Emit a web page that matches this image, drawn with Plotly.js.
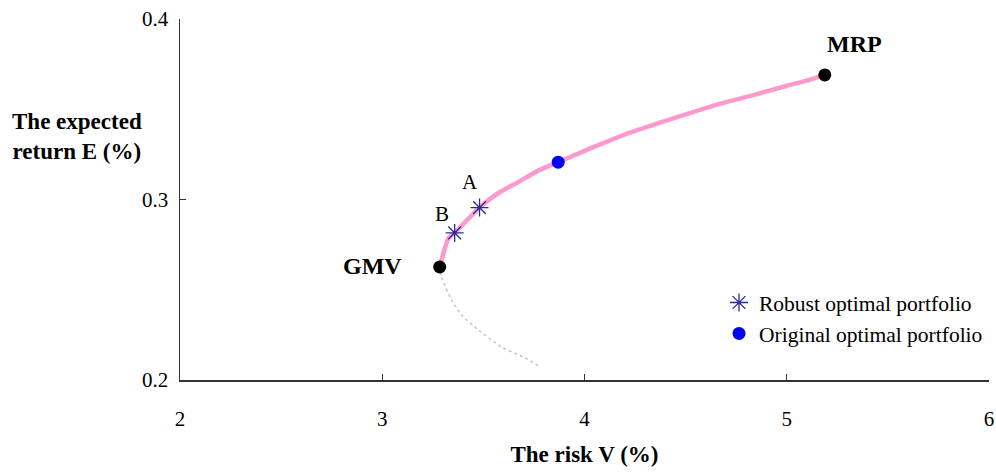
<!DOCTYPE html>
<html>
<head>
<meta charset="utf-8">
<script src="https://cdn.plot.ly/plotly-3.0.1.min.js"></script>
<style>html,body{margin:0;padding:0;background:#fff;}#chart{width:996px;height:472px;}</style>
</head>
<body>
<div id="chart"></div>
<script>
// Efficient frontier (upper branch, pink)
var frontierRisk   = [3.284, 3.304, 3.328, 3.358, 3.481, 3.574, 3.673, 3.771, 3.870, 4.032, 4.199, 4.362, 4.524, 4.672, 4.839, 5.001, 5.134, 5.188];
var frontierReturn = [0.2626, 0.2709, 0.2787, 0.2815, 0.2955, 0.3036, 0.3097, 0.3160, 0.3207, 0.3285, 0.3360, 0.3422, 0.3480, 0.3531, 0.3580, 0.3630, 0.3670, 0.3690];
// Inefficient lower branch (grey)
var lowerRisk   = [3.287, 3.294, 3.343, 3.392, 3.476, 3.589, 3.707, 3.781];
var lowerReturn = [0.2600, 0.2565, 0.2443, 0.2360, 0.2277, 0.2183, 0.2122, 0.2072];
// Robust optimal portfolios A and B
var robustLabels = ["A", "B"];
var robustRisk   = [3.481, 3.358];
var robustReturn = [0.2955, 0.2815];
// Original optimal portfolio
var originalRisk   = [3.870];
var originalReturn = [0.3207];
// Special points
var specialLabels = ["GMV", "MRP"];
var specialRisk   = [3.284, 5.188];
var specialReturn = [0.2626, 0.3690];

var xTicks = [2, 3, 4, 5, 6];
var yTicks = [0.2, 0.3, 0.4];

var serif = "Liberation Serif, Times New Roman, serif";
var plotW = 996 - 180 - 7;

var traces = [
  {x: lowerRisk, y: lowerReturn, mode: "lines", line: {color: "#c4c4c4", width: 1.5, dash: "dot", shape: "spline", smoothing: 0.6}, showlegend: false, hoverinfo: "skip"},
  {x: frontierRisk, y: frontierReturn, mode: "lines", line: {color: "#ff99cc", width: 4.5, shape: "spline", smoothing: 0.6}, showlegend: false, hoverinfo: "skip"},
  {x: specialRisk, y: specialReturn, mode: "markers", marker: {color: "#000000", size: 13}, showlegend: false},
  {x: robustRisk, y: robustReturn, mode: "markers", name: "Robust optimal portfolio",
   marker: {symbol: "asterisk-open", size: 15, color: "#2b2b9a", line: {color: "#2b2b9a", width: 1.3}}},
  {x: originalRisk, y: originalReturn, mode: "markers", name: "Original optimal portfolio",
   marker: {color: "#0000ff", size: 13}}
];

var annotations = [
  {x: specialRisk[0], y: specialReturn[0], xref: "x", yref: "y", text: "<b>" + specialLabels[0] + "</b>", showarrow: false, xanchor: "center", yanchor: "middle", xshift: -67, yshift: 1, font: {family: serif, size: 24, color: "#000"}},
  {x: specialRisk[1], y: specialReturn[1], xref: "x", yref: "y", text: "<b>" + specialLabels[1] + "</b>", showarrow: false, xanchor: "center", yanchor: "middle", xshift: 30, yshift: 31, font: {family: serif, size: 24, color: "#000"}},
  {x: robustRisk[0], y: robustReturn[0], xref: "x", yref: "y", text: robustLabels[0], showarrow: false, xanchor: "center", yanchor: "middle", xshift: -10, yshift: 26, font: {family: serif, size: 21, color: "#000"}},
  {x: robustRisk[1], y: robustReturn[1], xref: "x", yref: "y", text: robustLabels[1], showarrow: false, xanchor: "center", yanchor: "middle", xshift: -13, yshift: 19, font: {family: serif, size: 21, color: "#000"}},
  {x: (77 - 180) / plotW, y: (380 - 136) / 361, xref: "paper", yref: "paper", xanchor: "center", yanchor: "middle",
   text: "<b>The expected<br>return E (%)</b>", showarrow: false, align: "center",
   font: {family: serif, size: 23, color: "#000"}}
];

var layout = {
  width: 996, height: 472,
  margin: {l: 180, r: 7, t: 19, b: 92},
  paper_bgcolor: "#ffffff", plot_bgcolor: "#ffffff",
  font: {family: serif, size: 21, color: "#000"},
  showlegend: true,
  legend: {x: (719 - 180) / plotW, y: (380 - 282) / 361, xanchor: "left", yanchor: "top",
           bgcolor: "rgba(0,0,0,0)", font: {family: serif, size: 21.5, color: "#000"}, tracegroupgap: 0, itemwidth: 30},
  xaxis: {range: [2, 6], tickvals: xTicks, ticktext: xTicks.map(String), ticks: "inside", ticklen: 6, tickcolor: "#333",
          showline: true, linecolor: "#333", linewidth: 1.5, showgrid: false, zeroline: false, ticklabelstandoff: 19,
          ticklabeloverflow: "allow",
          title: {text: "<b>The risk V (%)</b>", font: {family: serif, size: 23, color: "#000"}, standoff: 16}},
  yaxis: {range: [0.2, 0.4], tickvals: yTicks, ticktext: yTicks.map(function(v){return v.toFixed(1);}), ticks: "inside", ticklen: 6, tickcolor: "#333",
          showline: true, linecolor: "#333", linewidth: 1.5, showgrid: false, zeroline: false, ticklabelstandoff: 6,
          ticklabeloverflow: "allow"},
  annotations: annotations
};

Plotly.newPlot("chart", traces, layout, {staticPlot: true, displayModeBar: false});
</script>
</body>
</html>
